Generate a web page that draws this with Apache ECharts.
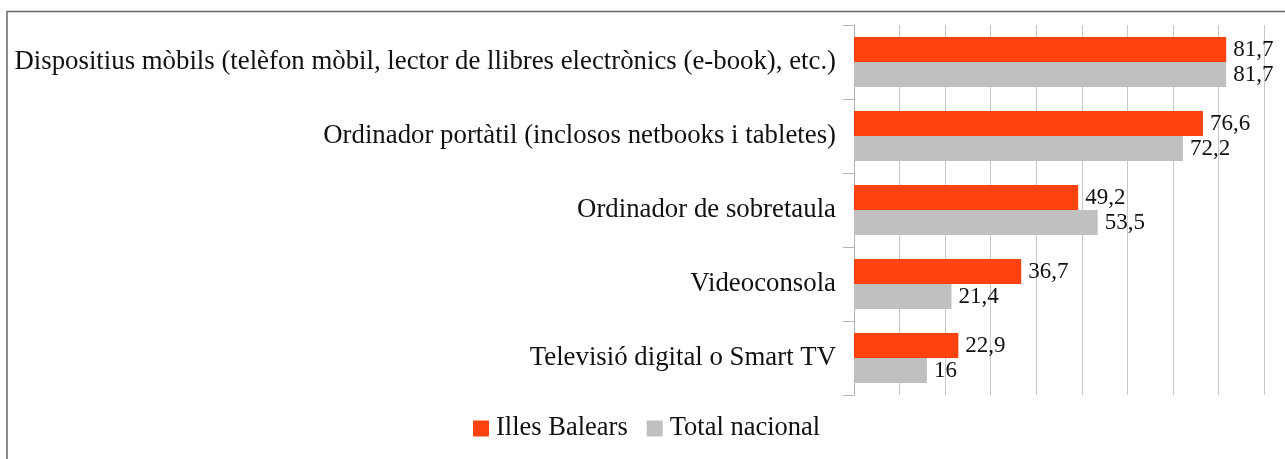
<!DOCTYPE html>
<html>
<head>
<meta charset="utf-8">
<style>
  html, body { margin: 0; padding: 0; background: #fff; }
  #chart { width: 1285px; height: 459px; }
</style>
<script src="https://cdn.jsdelivr.net/npm/echarts@6/dist/echarts.min.js"></script>
</head>
<body>
<div id="chart"></div>
<script>
const categories = [
  "Dispositius mòbils (telèfon mòbil, lector de llibres electrònics (e-book), etc.)",
  "Ordinador portàtil (inclosos netbooks i tabletes)",
  "Ordinador de sobretaula",
  "Videoconsola",
  "Televisió digital o Smart TV"
];
const illesBalears = [81.7, 76.6, 49.2, 36.7, 22.9];
const totalNacional = [81.7, 72.2, 53.5, 21.4, 16];

const font = "Liberation Serif";

const chart = echarts.init(document.getElementById("chart"));

function labelFmt(p) {
  return String(p.value).replace(".", ",");
}

const option = {
  animation: false,
  textStyle: { fontFamily: font },
  graphic: [
    {
      type: "rect",
      shape: { x: 7, y: 11.5, width: 1400, height: 600 },
      style: { fill: "none", stroke: "#666", lineWidth: 1.5 },
      silent: true,
    },
  ],
  legend: {
    left: 468,
    top: 410,
    itemWidth: 16,
    itemHeight: 16,
    itemGap: 19,
    icon: "rect",
    textStyle: { fontFamily: font, fontSize: 26.5, color: "#111", padding: [0, 0, 0, 2] },
    data: ["Illes Balears", "Total nacional"],
  },
  grid: {
    left: 854,
    right: 21,
    top: 25,
    bottom: 64,
  },
  xAxis: {
    type: "value",
    min: 0,
    max: 90,
    interval: 10,
    axisLabel: { show: false },
    axisLine: { show: false },
    axisTick: { show: false },
    splitLine: { show: true, lineStyle: { color: "#c8c8c8", width: 1 } },
  },
  yAxis: {
    type: "category",
    inverse: true,
    data: categories,
    axisLine: { show: true, lineStyle: { color: "#b3b3b3", width: 1 } },
    axisTick: { show: true, length: 11, lineStyle: { color: "#b3b3b3" } },
    axisLabel: { fontFamily: font, fontSize: 26.8, color: "#111", margin: 18 },
  },
  series: [
    {
      name: "Illes Balears",
      type: "bar",
      data: illesBalears,
      barWidth: 25,
      barGap: "0%",
      itemStyle: { color: "#ff420e" },
      label: {
        show: true,
        position: "right",
        distance: 7,
        fontFamily: font,
        fontSize: 23,
        color: "#111",
        formatter: labelFmt,
      },
    },
    {
      name: "Total nacional",
      type: "bar",
      data: totalNacional,
      barWidth: 25,
      barGap: "0%",
      itemStyle: { color: "#c0c0c0" },
      label: {
        show: true,
        position: "right",
        distance: 7,
        fontFamily: font,
        fontSize: 23,
        color: "#111",
        formatter: labelFmt,
      },
    },
  ],
};

chart.setOption(option);
</script>
</body>
</html>
